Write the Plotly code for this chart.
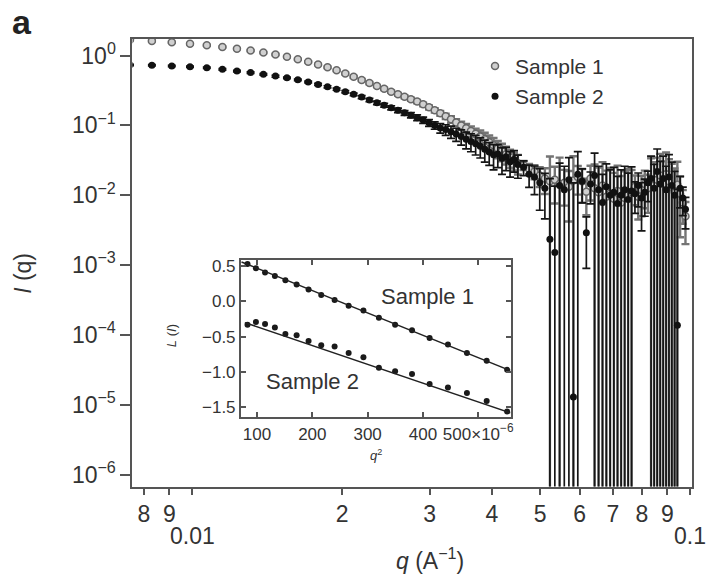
import plotly.graph_objects as go

# main scattering curves, q in 1/A
q = [0.0075, 0.0083, 0.0091, 0.0099, 0.0107, 0.0115, 0.0123, 0.0131, 0.0139, 0.0147,
     0.0155, 0.0163, 0.0171, 0.0179, 0.0187, 0.0195, 0.0203, 0.0211, 0.0219, 0.0227,
     0.0235, 0.0243, 0.0251, 0.0259, 0.0267, 0.0275, 0.0283, 0.0291, 0.0299, 0.0307,
     0.0315, 0.0323, 0.0331, 0.0339, 0.0347, 0.0355, 0.0363, 0.0371, 0.0379, 0.0387,
     0.0395, 0.0403, 0.0411, 0.0419, 0.0427, 0.0435, 0.0443, 0.0451,
     0.0463, 0.0475, 0.0487, 0.0499, 0.0511, 0.0523, 0.0535, 0.0547, 0.0559, 0.0571,
     0.0583, 0.0595, 0.0607, 0.0619, 0.0631, 0.0643, 0.0655, 0.0667, 0.0679, 0.0691,
     0.0703, 0.0715, 0.0727, 0.0739, 0.0751, 0.0763, 0.0775, 0.0787, 0.0799, 0.0811,
     0.0823, 0.0835, 0.0847, 0.0859, 0.0871, 0.0883, 0.0895, 0.0907, 0.0919, 0.0931,
     0.0943, 0.0955, 0.0967, 0.0979]

i_sample1 = [1.679, 1.614, 1.542, 1.472, 1.400, 1.327, 1.253, 1.180, 1.107, 1.033,
             0.959, 0.887, 0.815, 0.746, 0.679, 0.614, 0.552, 0.495, 0.447, 0.403,
             0.366, 0.333, 0.304, 0.279, 0.256, 0.236, 0.219, 0.200, 0.181, 0.164,
             0.149, 0.135, 0.122, 0.110, 0.100, 0.0910, 0.0828, 0.0759, 0.0695, 0.0635,
             0.0575, 0.0519, 0.0468, 0.0425, 0.0385, 0.0348, 0.0316, 0.0288,
             0.0269, 0.0240, 0.0219, 0.0191, 0.0174, 0.0158, 0.0166, 0.0145, 0.0151, 0.0132,
             0.0162, 0.0182, 0.0158, 0.0112, 0.0174, 0.0126, 0.0110, 0.0138, 0.0095, 0.0105,
             0.0089, 0.0115, 0.0079, 0.0091, 0.0100, 0.0110, 0.0132, 0.0095, 0.0120, 0.0145,
             0.0126, 0.0158, 0.0138, 0.0166, 0.0191, 0.0145, 0.0200, 0.0158, 0.0132, 0.0112,
             0.0141, 0.0105, 0.0079, 0.0050]
err_sample1 = [0.02, 0.02, 0.02, 0.02, 0.02, 0.02, 0.02, 0.02, 0.02, 0.02,
               0.015, 0.015, 0.015, 0.015, 0.015, 0.015, 0.015, 0.015, 0.015, 0.015,
               0.012, 0.012, 0.012, 0.012, 0.012, 0.012, 0.012, 0.012, 0.012, 0.012,
               0.012, 0.012, 0.013, 0.013, 0.013, 0.014, 0.014, 0.014, 0.015, 0.015,
               0.014, 0.014, 0.013, 0.012, 0.011, 0.010, 0.009, 0.009,
               0.004, 0.004, 0.005, 0.006, 0.007, 0.020, 0.009, 0.020, 0.008, 0.009,
               0.020, 0.008, 0.008, 0.006, 0.009, 0.015, 0.014, 0.016, 0.013, 0.014,
               0.012, 0.015, 0.011, 0.013, 0.014, 0.012, 0.006, 0.005, 0.007, 0.008,
               0.007, 0.018, 0.016, 0.018, 0.020, 0.016, 0.021, 0.017, 0.015, 0.013,
               0.016, 0.008, 0.004, 0.003]

i_sample2 = [0.733, 0.724, 0.708, 0.692, 0.667, 0.634, 0.600, 0.569, 0.537, 0.507,
             0.479, 0.449, 0.417, 0.386, 0.357, 0.330, 0.303, 0.278, 0.254, 0.231,
             0.210, 0.194, 0.179, 0.164, 0.151, 0.140, 0.129, 0.119, 0.109, 0.100,
             0.0916, 0.0871, 0.0813, 0.0750, 0.0692, 0.0631, 0.0589, 0.0547, 0.0501, 0.0457,
             0.0417, 0.0380, 0.0389, 0.0339, 0.0355, 0.0302, 0.0324, 0.0275,
             0.0251, 0.0200, 0.0182, 0.0151, 0.0126, 0.00234, 0.00151, 0.0138, 0.0120, 0.0166,
             0.0000129, 0.0200, 0.0158, 0.0029, 0.0145, 0.0191, 0.0120, 0.0079, 0.0132, 0.0100,
             0.0110, 0.0076, 0.0100, 0.0120, 0.0087, 0.0115, 0.0105, 0.0138, 0.0091, 0.0110,
             0.0151, 0.0174, 0.0126, 0.0219, 0.0145, 0.0174, 0.0120, 0.0182, 0.0138, 0.0100,
             0.000138, 0.0126, 0.0091, 0.0063]
err_sample2 = [0.015, 0.015, 0.015, 0.015, 0.015, 0.015, 0.015, 0.015, 0.015, 0.015,
               0.012, 0.012, 0.012, 0.012, 0.012, 0.012, 0.012, 0.012, 0.012, 0.012,
               0.012, 0.012, 0.012, 0.012, 0.012, 0.012, 0.012, 0.012, 0.012, 0.012,
               0.014, 0.015, 0.016, 0.016, 0.017, 0.017, 0.017, 0.017, 0.016, 0.016,
               0.015, 0.015, 0.014, 0.014, 0.013, 0.012, 0.011, 0.010,
               0.006, 0.007, 0.008, 0.009, 0.008, 0.015, 0.012, 0.015, 0.014, 0.018,
               0.015, 0.022, 0.008, 0.002, 0.007, 0.021, 0.014, 0.012, 0.015, 0.013,
               0.014, 0.011, 0.013, 0.014, 0.012, 0.014, 0.005, 0.007, 0.006, 0.006,
               0.007, 0.019, 0.015, 0.024, 0.016, 0.019, 0.014, 0.020, 0.016, 0.012,
               0.012, 0.006, 0.004, 0.003]

# Guinier inset: q^2 in units of 1e-6 A^-2, L = ln I
q2_inset = [82.8, 98.0, 114.5, 132.3, 151.3, 171.6, 193.2, 216.1, 240.3, 265.7,
            292.4, 320.4, 349.7, 380.3, 412.1, 445.2, 479.6, 515.3, 552.3]
L_sample1 = [0.53, 0.47, 0.41, 0.36, 0.30, 0.24, 0.17, 0.09, 0.02, -0.06,
             -0.13, -0.23, -0.33, -0.41, -0.52, -0.61, -0.73, -0.84, -0.97]
L_sample2 = [-0.33, -0.29, -0.32, -0.37, -0.46, -0.48, -0.56, -0.62, -0.64, -0.73,
             -0.79, -0.94, -0.99, -1.03, -1.17, -1.22, -1.30, -1.41, -1.56]
fit1_q2 = [72, 558]
fit1_L = [0.56, -0.98]
fit2_q2 = [78, 558]
fit2_L = [-0.30, -1.58]

x_tickvals = [0.008, 0.009, 0.01, 0.02, 0.03, 0.04, 0.05, 0.06, 0.07, 0.08, 0.09, 0.1]
x_ticktext = ["8", "9", "", "2", "3", "4", "5", "6", "7", "8", "9", ""]
y_tickvals = [1e-6, 1e-5, 1e-4, 1e-3, 1e-2, 1e-1, 1]
y_ticktext = ["10<sup>−6</sup>", "10<sup>−5</sup>", "10<sup>−4</sup>", "10<sup>−3</sup>",
              "10<sup>−2</sup>", "10<sup>−1</sup>", "10<sup>0</sup>"]
inset_xvals = [100, 200, 300, 400, 500]
inset_xtext = ["100", "200", "300", "400", "500×10<sup>−6</sup>"]
inset_yvals = [0.5, 0.0, -0.5, -1.0, -1.5]
inset_ytext = ["0.5", "0.0", "−0.5", "−1.0", "−1.5"]

axis_col = "#555555"
font_fam = "Liberation Sans, Arial, sans-serif"

fig = go.Figure()

fig.add_trace(go.Scatter(
    x=q, y=i_sample1, mode="markers", name="Sample 1",
    marker=dict(symbol="circle", size=7, color="#d0d0d0", line=dict(color="#666666", width=1.5)),
    error_y=dict(type="data", array=err_sample1, color="#747474", thickness=2.4, width=4),
    xaxis="x", yaxis="y",
))
fig.add_trace(go.Scatter(
    x=q, y=i_sample2, mode="markers", name="Sample 2",
    marker=dict(symbol="circle", size=7, color="#111111"),
    error_y=dict(type="data", array=err_sample2, color="#151515", thickness=1.7, width=4),
    xaxis="x", yaxis="y",
))

# inset
for L_vals in (L_sample1, L_sample2):
    fig.add_trace(go.Scatter(
        x=q2_inset, y=L_vals, mode="markers", showlegend=False,
        marker=dict(size=6, color="#1a1a1a"), xaxis="x2", yaxis="y2",
    ))
for fx, fy in ((fit1_q2, fit1_L), (fit2_q2, fit2_L)):
    fig.add_trace(go.Scatter(
        x=fx, y=fy, mode="lines", showlegend=False,
        line=dict(color="#222222", width=1.5), xaxis="x2", yaxis="y2",
    ))

fig.update_layout(
    width=712, height=574,
    margin=dict(l=0, r=0, t=0, b=0),
    paper_bgcolor="white", plot_bgcolor="white",
    font=dict(family=font_fam, color="#333333"),
    xaxis=dict(
        type="log", domain=[0.1868, 0.9761], range=[-2.12, -0.996], anchor="y",
        tickmode="array", tickvals=x_tickvals, ticktext=x_ticktext,
        ticks="outside", ticklen=6, tickwidth=1.5, tickcolor=axis_col,
        showline=True, linecolor=axis_col, linewidth=2, mirror=True,
        showgrid=False, zeroline=False, tickfont=dict(size=23),
    ),
    yaxis=dict(
        type="log", domain=[0.1516, 0.9373], range=[-6.17, 0.24], anchor="x",
        tickmode="array", tickvals=y_tickvals, ticktext=y_ticktext,
        ticks="outside", ticklen=10, tickwidth=1.5, tickcolor=axis_col,
        showline=True, linecolor=axis_col, linewidth=2, mirror=True,
        showgrid=False, zeroline=False, tickfont=dict(size=23),
    ),
    xaxis2=dict(
        domain=[0.3399, 0.7205], range=[71, 559], anchor="y2",
        tickmode="array", tickvals=inset_xvals, ticktext=inset_xtext,
        ticks="inside", ticklen=5, tickwidth=1.5, tickcolor=axis_col,
        showline=True, linecolor=axis_col, linewidth=2, mirror="ticks",
        showgrid=False, zeroline=False, tickfont=dict(size=17),
    ),
    yaxis2=dict(
        domain=[0.2735, 0.5488], range=[-1.64, 0.585], anchor="x2",
        tickmode="array", tickvals=inset_yvals, ticktext=inset_ytext,
        ticks="inside", ticklen=5, tickwidth=1.5, tickcolor=axis_col,
        showline=True, linecolor=axis_col, linewidth=2, mirror="ticks",
        showgrid=False, zeroline=False, tickfont=dict(size=17),
    ),
    legend=dict(
        x=0.67, y=0.925, xanchor="left", yanchor="top",
        font=dict(size=21, color="#333333"), bgcolor="rgba(0,0,0,0)",
        tracegroupgap=0,
    ),
    showlegend=True,
)

annotations = [
    dict(text="<b>a</b>", x=0.031, y=0.967, xref="paper", yref="paper", font=dict(size=34, color="#222222")),
    dict(text="<i>I</i> (q)", x=0.032, y=0.526, xref="paper", yref="paper", textangle=-90, font=dict(size=23)),
    dict(text="<i>q</i> (A<sup>−1</sup>)", x=0.607, y=0.024, xref="paper", yref="paper", font=dict(size=23)),
    dict(text="0.01", x=-2, y=0.0645, xref="x", yref="paper", font=dict(size=23)),
    dict(text="0.1", x=-1, y=0.0645, xref="x", yref="paper", font=dict(size=23)),
    dict(text="Sample 1", x=408, y=0.07, xref="x2", yref="y2", font=dict(size=22)),
    dict(text="Sample 2", x=201, y=-1.13, xref="x2", yref="y2", font=dict(size=22)),
    dict(text="<i>L</i> (<i>I</i>)", x=0.243, y=0.416, xref="paper", yref="paper", textangle=-90, font=dict(size=13)),
    dict(text="<i>q</i><sup>2</sup>", x=0.531, y=0.207, xref="paper", yref="paper", font=dict(size=13)),
]
for a in annotations:
    a.update(showarrow=False, xanchor="center", yanchor="middle")
fig.update_layout(annotations=annotations)

# page body has a default 8px margin; drop it so the figure fills the window
fig.write_html(
    "out.html",
    config={"displayModeBar": False},
    post_script="document.body.style.margin='0';",
)
